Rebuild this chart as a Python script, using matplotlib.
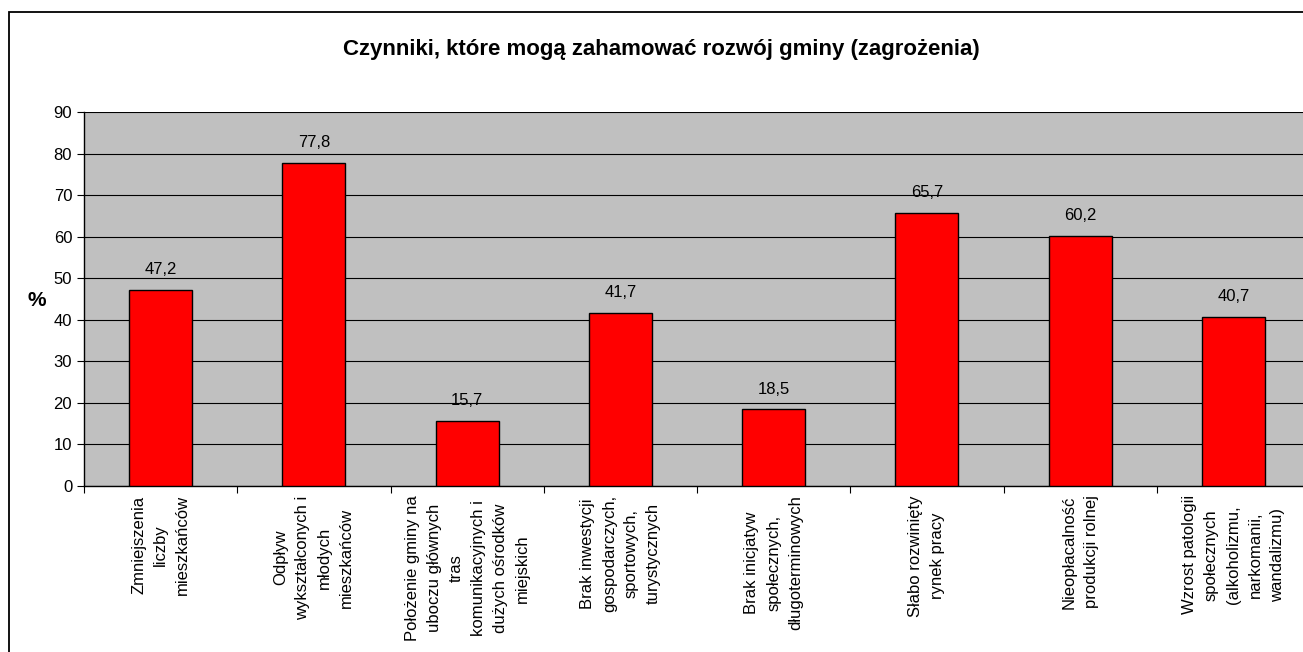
import numpy as np
import matplotlib.pyplot as plt
from matplotlib.patches import Rectangle

plt.rcParams['font.family'] = ['Liberation Sans', 'DejaVu Sans']

kategorie = [
    "Zmniejszenia\nliczby\nmieszkańców",
    "Odpływ\nwykształconych i\nmłodych\nmieszkańców",
    "Położenie gminy na\nuboczu głównych\ntras\nkomunikacyjnych i\ndużych ośrodków\nmiejskich",
    "Brak inwestycji\ngospodarczych,\nsportowych,\nturystycznych",
    "Brak inicjatyw\nspołecznych,\ndługoterminowych",
    "Słabo rozwinięty\nrynek pracy",
    "Nieopłacalność\nprodukcji rolnej",
    "Wzrost patologii\nspołecznych\n(alkoholizmu,\nnarkomanii,\nwandalizmu)",
]
wartosci = [47.2, 77.8, 15.7, 41.7, 18.5, 65.7, 60.2, 40.7]
etykiety = ["47,2", "77,8", "15,7", "41,7", "18,5", "65,7", "60,2", "40,7"]
tytul = "Czynniki, które mogą zahamować rozwój gminy (zagrożenia)"

fig = plt.figure(figsize=(13.03, 6.52), dpi=100)
# ramka wokol wykresu
fig.patches.append(Rectangle((9 / 1303, -0.01), 1.02, 1 - 12 / 652 + 0.01,
                             transform=fig.transFigure, fill=False,
                             edgecolor='black', linewidth=1.3))

ax = fig.add_axes([84 / 1303, 1 - 486 / 652, 1226 / 1303, (486 - 112) / 652])
ax.set_facecolor('#C0C0C0')

x = np.arange(len(wartosci))
ax.bar(x, wartosci, width=0.41, color='#FF0000', edgecolor='black', linewidth=1, zorder=3)

for xi, v, t in zip(x, wartosci, etykiety):
    ax.annotate(t, (xi, v), xytext=(0, 9), textcoords='offset points',
                ha='center', va='bottom', fontsize=12)

ax.set_xlim(-0.5, len(wartosci) - 0.5)
ax.set_ylim(0, 90)
ax.set_yticks(np.arange(0, 91, 10))
ax.yaxis.grid(True, color='black', linewidth=0.8, zorder=0)
ax.set_axisbelow(True)

ax.set_xticks(np.arange(-0.5, len(wartosci), 1))
ax.set_xticklabels([])
ax.tick_params(axis='x', direction='out', length=5, width=0.8)
ax.tick_params(axis='y', direction='out', length=5, width=0.8, labelsize=12)

for xi, k in zip(x, kategorie):
    ax.text(xi, -0.025, k, transform=ax.get_xaxis_transform(), rotation=90,
            ha='center', va='top', multialignment='center', fontsize=12,
            linespacing=1.58)

for s in ['top', 'right']:
    ax.spines[s].set_visible(False)
ax.spines['left'].set_linewidth(1)
ax.spines['bottom'].set_linewidth(1)

fig.text(37 / 1303, 1 - 300 / 652, '%', fontsize=15, fontweight='bold', ha='center', va='center')
fig.text(661 / 1303, 1 - 49 / 652, tytul, fontsize=16, fontweight='bold', ha='center', va='center')

fig.savefig('out.png', dpi=100)
